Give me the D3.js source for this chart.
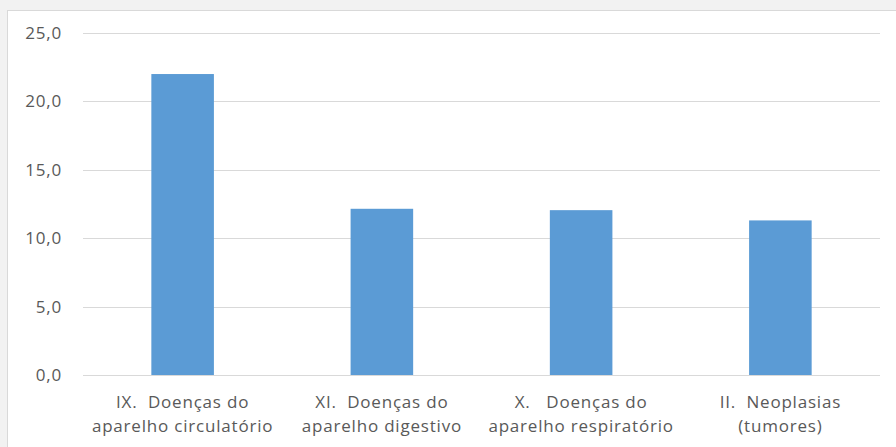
<!DOCTYPE html>
<html>
<head>
<meta charset="utf-8">
<script src="https://cdn.jsdelivr.net/npm/d3@7"></script>
<style>
  html, body { margin: 0; padding: 0; background: #f2f2f2; }
  svg { display: block; }
  text { font-family: "Open Sans", "Noto Sans", sans-serif; fill: #595959; }
</style>
</head>
<body>
<svg id="chart" width="896" height="447"></svg>
<script>
// Causas de internação (%)
const categories = [
  ["IX.  Doenças do", "aparelho circulatório"],
  ["XI.  Doenças do", "aparelho digestivo"],
  ["X.   Doenças do", "aparelho respiratório"],
  ["II.  Neoplasias", "(tumores)"]
];
const values = [22.0, 12.15, 12.05, 11.3];
const yTicks = [0, 5, 10, 15, 20, 25];

const svg = d3.select("#chart");
const W = 896, H = 447;

// chart area panel
svg.append("rect")
  .attr("x", 7.5).attr("y", 10.5)
  .attr("width", W).attr("height", H)
  .attr("fill", "#ffffff")
  .attr("stroke", "#d9d9d9");

const plot = { left: 83, right: 880, top: 33, bottom: 375 };

const x = d3.scaleBand()
  .domain(d3.range(categories.length))
  .range([plot.left, plot.right])
  .paddingInner(0.686)
  .paddingOuter(0.343);

const y = d3.scaleLinear()
  .domain([0, 25])
  .range([plot.bottom, plot.top]);

// gridlines
svg.append("g")
  .selectAll("line")
  .data(yTicks)
  .join("line")
  .attr("x1", plot.left).attr("x2", plot.right)
  .attr("y1", d => Math.round(y(d)) + 0.5)
  .attr("y2", d => Math.round(y(d)) + 0.5)
  .attr("stroke", "#d9d9d9")
  .attr("stroke-width", 1);

// y tick labels
const fmt = d => d.toFixed(1).replace(".", ",");
svg.append("g")
  .selectAll("text")
  .data(yTicks)
  .join("text")
  .attr("x", 62)
  .attr("y", d => y(d))
  .attr("dy", "0.35em")
  .attr("text-anchor", "end")
  .attr("font-size", 17)
  .attr("letter-spacing", 0.8)
  .text(fmt);

// bars
svg.append("g")
  .selectAll("rect")
  .data(values)
  .join("rect")
  .attr("x", (d, i) => x(i))
  .attr("width", x.bandwidth())
  .attr("y", d => y(d))
  .attr("height", d => y(0) - y(d))
  .attr("fill", "#5b9bd5");

// category labels
const labels = svg.append("g")
  .selectAll("text")
  .data(categories)
  .join("text")
  .attr("x", (d, i) => x(i) + x.bandwidth() / 2)
  .attr("y", 408)
  .attr("text-anchor", "middle")
  .attr("font-size", 17)
  .attr("letter-spacing", 0.8)
  .attr("xml:space", "preserve")
  .style("white-space", "pre");

labels.selectAll("tspan")
  .data(d => d)
  .join("tspan")
  .attr("x", function () { return d3.select(this.parentNode).attr("x"); })
  .attr("dy", (d, i) => i === 0 ? 0 : 24)
  .text(d => d);
</script>
</body>
</html>
